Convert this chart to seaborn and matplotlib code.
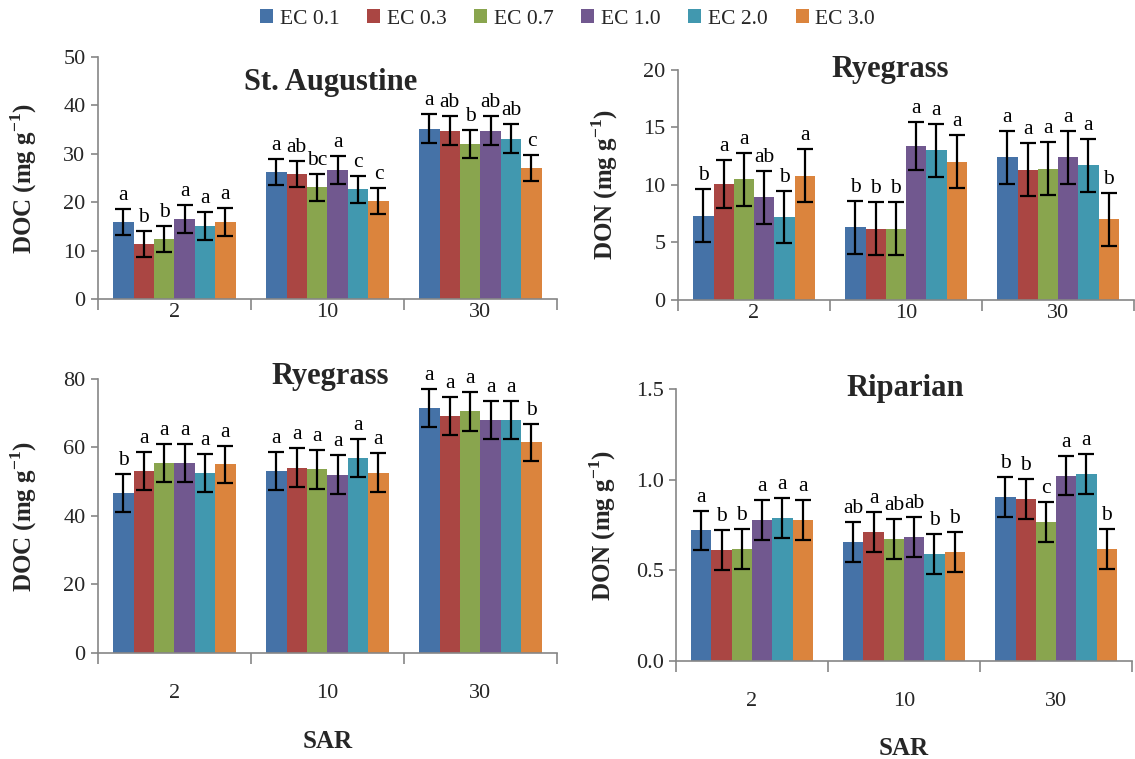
import pandas as pd
import seaborn as sns
import matplotlib.pyplot as plt
from matplotlib.ticker import FixedLocator, NullFormatter, FormatStrFormatter

sar = ['2', '10', '30']
ec_levels = ['EC 0.1', 'EC 0.3', 'EC 0.7', 'EC 1.0', 'EC 2.0', 'EC 3.0']
colors = ['#4572A7', '#AA4643', '#89A54E', '#71588F', '#4198AF', '#DB843D']

# rows = SAR level, columns = EC level
doc_sa = [[15.9, 11.4, 12.4, 16.6, 15.1, 15.9],
          [26.2, 25.9, 23.1, 26.6, 22.7, 20.3],
          [35.2, 34.8, 32.1, 34.8, 33.1, 27.0]]
doc_sa_err = [[2.7, 2.7, 2.7, 2.9, 2.9, 2.8],
              [2.7, 2.7, 2.8, 2.9, 2.8, 2.7],
              [3.0, 2.9, 2.9, 2.9, 3.0, 2.7]]
doc_sa_let = [['a', 'b', 'b', 'a', 'a', 'a'],
              ['a', 'ab', 'bc', 'a', 'c', 'c'],
              ['a', 'ab', 'b', 'ab', 'ab', 'c']]

don_rye = [[7.3, 10.1, 10.5, 8.9, 7.2, 10.8],
           [6.3, 6.2, 6.2, 13.4, 13.0, 12.0],
           [12.4, 11.3, 11.4, 12.4, 11.7, 7.0]]
don_rye_err = [[2.3, 2.1, 2.3, 2.3, 2.3, 2.3],
               [2.3, 2.3, 2.3, 2.1, 2.3, 2.3],
               [2.3, 2.3, 2.3, 2.3, 2.3, 2.3]]
don_rye_let = [['b', 'a', 'a', 'ab', 'b', 'a'],
               ['b', 'b', 'b', 'a', 'a', 'a'],
               ['a', 'a', 'a', 'a', 'a', 'b']]

doc_rye = [[46.8, 53.1, 55.5, 55.5, 52.6, 55.1],
           [53.1, 54.1, 53.6, 52.1, 57.0, 52.6],
           [71.5, 69.1, 70.6, 68.1, 68.1, 61.5]]
doc_rye_err = [[5.5, 5.5, 5.5, 5.5, 5.6, 5.4],
               [5.6, 5.6, 5.7, 5.7, 5.6, 5.7],
               [5.6, 5.6, 5.7, 5.6, 5.6, 5.4]]
doc_rye_let = [['b', 'a', 'a', 'a', 'a', 'a'],
               ['a', 'a', 'a', 'a', 'a', 'a'],
               ['a', 'a', 'a', 'a', 'a', 'b']]

don_rip = [[0.72, 0.61, 0.62, 0.78, 0.79, 0.78],
           [0.655, 0.71, 0.674, 0.683, 0.59, 0.60],
           [0.904, 0.894, 0.766, 1.023, 1.033, 0.618]]
don_rip_err = [[0.11, 0.11, 0.11, 0.11, 0.11, 0.11],
               [0.11, 0.11, 0.11, 0.11, 0.11, 0.11],
               [0.11, 0.11, 0.11, 0.11, 0.11, 0.11]]
don_rip_let = [['a', 'b', 'b', 'a', 'a', 'a'],
               ['ab', 'a', 'ab', 'ab', 'b', 'b'],
               ['b', 'b', 'c', 'a', 'a', 'b']]


def to_frame(mean, err, lets):
    rows = []
    for i, s in enumerate(sar):
        for j, e in enumerate(ec_levels):
            rows.append({'SAR': s, 'EC': e, 'value': mean[i][j], 'err': err[i][j], 'letter': lets[i][j]})
    return pd.DataFrame(rows)


sns.set_theme(style='ticks')
plt.rcParams['font.family'] = ['Liberation Serif', 'DejaVu Serif']
plt.rcParams['mathtext.fontset'] = 'custom'
plt.rcParams['mathtext.rm'] = 'Liberation Serif'
plt.rcParams['mathtext.bf'] = 'Liberation Serif:bold'

fig = plt.figure(figsize=(11.35, 7.59), dpi=100)

panels = [
    # rect, data, title, title pos, ylabel, ylim, yticks, fmt, bottom row
    ([0.0863, 0.606, 0.4044, 0.319], to_frame(doc_sa, doc_sa_err, doc_sa_let),
     'St. Augustine', (0.508, 0.895), 'DOC', (0, 50), [0, 10, 20, 30, 40, 50], '%d', False),
    ([0.5974, 0.605, 0.4018, 0.303], to_frame(don_rye, don_rye_err, don_rye_let),
     'Ryegrass', (0.465, 1.0), 'DON', (0, 20), [0, 5, 10, 15, 20], '%d', False),
    ([0.0863, 0.1397, 0.4044, 0.361], to_frame(doc_rye, doc_rye_err, doc_rye_let),
     'Ryegrass', (0.505, 1.01), 'DOC', (0, 80), [0, 20, 40, 60, 80], '%d', True),
    ([0.5956, 0.129, 0.4018, 0.3585], to_frame(don_rip, don_rip_err, don_rip_let),
     'Riparian', (0.502, 1.0), 'DON', (0, 1.5), [0, 0.5, 1.0, 1.5], '%.1f', True),
]

axis_grey = '#868686'
handles = None
for k, (rect, df, title, tpos, yname, ylim, yticks, fmt, bottom) in enumerate(panels):
    ax = fig.add_axes(rect)
    sns.barplot(data=df, x='SAR', y='value', hue='EC', order=sar, hue_order=ec_levels,
                palette=colors, errorbar=None, width=0.8, linewidth=0, saturation=1,
                ax=ax, legend=(k == 0))
    if k == 0:
        handles, labels = ax.get_legend_handles_labels()
        ax.get_legend().remove()

    # error bars and significance letters on top of each bar
    bar_groups = list(ax.containers)
    for j, cont in enumerate(bar_groups):
        sub = df[df['EC'] == ec_levels[j]].set_index('SAR').loc[sar]
        for bar, (_, row) in zip(cont.patches, sub.iterrows()):
            xc = bar.get_x() + bar.get_width() / 2
            h = bar.get_height()
            ax.errorbar(xc, h, yerr=row['err'], color='black', elinewidth=1.6,
                        capsize=6, capthick=1.6, fmt='none')
            ax.annotate(row['letter'], (xc, h + row['err']), xytext=(0, 9),
                        textcoords='offset pixels', ha='center', va='baseline',
                        fontsize=15.5, color='black')

    ax.set_xlim(-0.5, 2.5)
    ax.set_ylim(*ylim)
    ax.set_yticks(yticks)
    ax.yaxis.set_major_formatter(FormatStrFormatter(fmt))

    # Excel style: tick marks between categories, labels at centres
    ax.xaxis.set_major_locator(FixedLocator([-0.5, 0.5, 1.5, 2.5]))
    ax.xaxis.set_major_formatter(NullFormatter())
    ax.xaxis.set_minor_locator(FixedLocator([0, 1, 2]))
    ax.set_xticklabels(sar, minor=True)
    ax.tick_params(axis='x', which='major', length=8, width=1.2, color=axis_grey, direction='out')
    ax.tick_params(axis='x', which='minor', length=0, labelsize=16,
                   pad=(22 if bottom else 3))
    ax.tick_params(axis='y', length=5, width=1.2, color=axis_grey, labelsize=16, pad=4)

    sns.despine(ax=ax)
    for s in ['left', 'bottom']:
        ax.spines[s].set_color(axis_grey)
        ax.spines[s].set_linewidth(1.2)

    ax.set_ylabel(yname + r' (mg g$^{\mathbf{-1}}$)', fontsize=18, fontweight='bold')
    ax.yaxis.set_label_coords(-0.128, 0.5)
    if bottom:
        ax.set_xlabel('SAR', fontsize=18, fontweight='bold')
        ax.xaxis.set_label_coords(0.5, -0.28)
    else:
        ax.set_xlabel('')

    ax.text(tpos[0], tpos[1], title, transform=ax.transAxes, ha='center', va='center',
            fontsize=22, fontweight='bold')

fig.legend(handles, labels, loc='center', bbox_to_anchor=(0.5, 0.975), ncol=6, frameon=False,
           fontsize=15.5, handlelength=0.6, handleheight=0.6, handletextpad=0.3, columnspacing=1.3)

fig.savefig('out.png', dpi=100)
